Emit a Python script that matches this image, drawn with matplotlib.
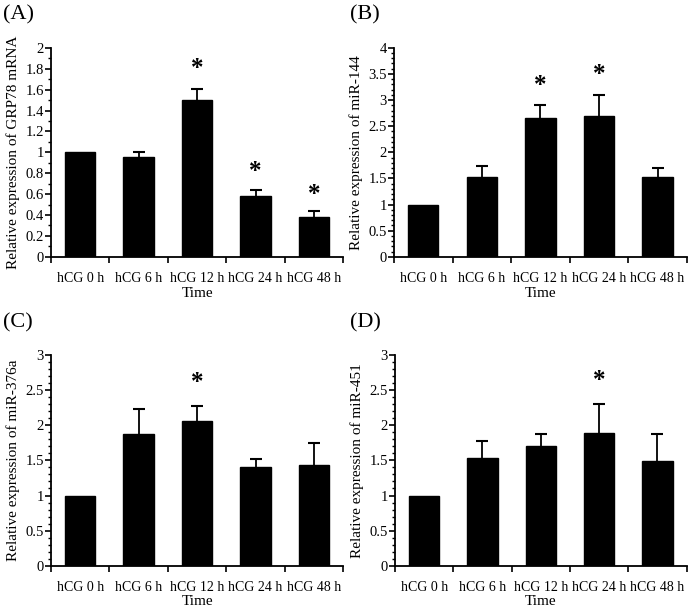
import matplotlib
matplotlib.use("Agg")
import matplotlib.pyplot as plt
from matplotlib.ticker import MultipleLocator

plt.rcParams['font.family'] = ['Liberation Serif', 'DejaVu Serif']

groups = ["hCG 0 h", "hCG 6 h", "hCG 12 h", "hCG 24 h", "hCG 48 h"]

# relative expression (mean) and upper error (SD) for each panel
grp78_mean = [1.00, 0.96, 1.50, 0.58, 0.38]
grp78_err = [0.0, 0.04, 0.11, 0.055, 0.055]
grp78_star = [None, None, 1.84, 0.86, 0.635]

mir144_mean = [1.00, 1.53, 2.66, 2.69, 1.53]
mir144_err = [0.0, 0.20, 0.24, 0.41, 0.17]
mir144_star = [None, None, 3.36, 3.56, None]

mir376a_mean = [1.00, 1.88, 2.06, 1.40, 1.43]
mir376a_err = [0.0, 0.35, 0.21, 0.12, 0.31]
mir376a_star = [None, None, 2.67, None, None]

mir451_mean = [1.00, 1.53, 1.71, 1.89, 1.49]
mir451_err = [0.0, 0.24, 0.17, 0.41, 0.39]
mir451_star = [None, None, None, 2.70, None]

panels = [
    ("(A)", "Relative expression of GRP78 mRNA", grp78_mean, grp78_err, grp78_star, 2, 0.2),
    ("(B)", "Relative expression of miR-144", mir144_mean, mir144_err, mir144_star, 4, 0.5),
    ("(C)", "Relative expression of miR-376a", mir376a_mean, mir376a_err, mir376a_star, 3, 0.5),
    ("(D)", "Relative expression of miR-451", mir451_mean, mir451_err, mir451_star, 3, 0.5),
]

# axes rectangles in figure fraction (left, bottom, width, height)
rects = [
    (0.0735, 0.581, 0.421, 0.341),
    (0.5677, 0.581, 0.422, 0.341),
    (0.0735, 0.077, 0.421, 0.344),
    (0.5692, 0.077, 0.420, 0.344),
]
letter_pos = [(0.004, 0.975), (0.504, 0.975), (0.004, 0.474), (0.504, 0.474)]

fig = plt.figure(figsize=(6.94, 6.13), dpi=100)

for (letter, ylab, mean, err, star, ymax, step), rect, lp in zip(panels, rects, letter_pos):
    ax = fig.add_axes(rect)
    x = list(range(len(groups)))
    ax.bar(x, mean, width=0.52, color="black", edgecolor="black", zorder=2)

    ex = [xi for xi, e in zip(x, err) if e > 0]
    em = [m for m, e in zip(mean, err) if e > 0]
    ee = [e for e in err if e > 0]
    eb = ax.errorbar(ex, em, yerr=[[0] * len(ee), ee], fmt="none", ecolor="black",
                     elinewidth=1.3, capsize=4.5, capthick=1.5, zorder=1)
    eb[1][0].remove()  # keep only the upper cap

    for xi, s in zip(x, star):
        if s is not None:
            ax.annotate("*", (xi, s), xytext=(0, -3), textcoords="offset points",
                        ha="center", va="center", fontsize=18, fontweight="bold")

    ax.set_xlim(-0.5, len(groups) - 0.5)
    ax.set_ylim(0, ymax)
    ax.set_xticks([i - 0.5 for i in range(len(groups) + 1)])
    ax.set_xticklabels([])
    ax.set_xticks(x, minor=True)
    ax.set_xticklabels(groups, minor=True, fontsize=10)
    ax.tick_params(axis="x", which="minor", length=0, pad=11)
    ax.tick_params(axis="x", which="major", length=4, width=1.2, direction="out")

    ax.yaxis.set_major_locator(MultipleLocator(step))
    ax.yaxis.set_minor_locator(MultipleLocator(0.1))
    ax.yaxis.set_major_formatter(plt.FuncFormatter(lambda v, p: f"{v:g}"))
    ax.tick_params(axis="y", which="major", length=4, width=1.2, labelsize=10.5, pad=1)
    ax.tick_params(axis="y", which="minor", length=2.5, width=1.0)

    for side in ("top", "right"):
        ax.spines[side].set_visible(False)
    for side in ("left", "bottom"):
        ax.spines[side].set_linewidth(1.3)

    ax.set_xlabel("Time", fontsize=11, labelpad=1)
    ax.set_ylabel(ylab, fontsize=11, labelpad=4)
    fig.text(lp[0], lp[1], letter, fontsize=16, ha="left", va="center")

fig.savefig("out.png", dpi=100)
